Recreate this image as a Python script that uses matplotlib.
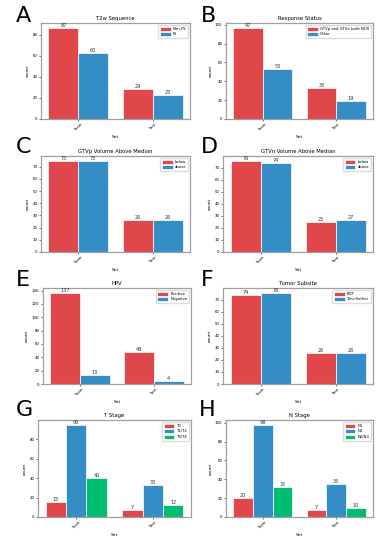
import matplotlib
matplotlib.use("Agg")
import matplotlib.pyplot as plt
import numpy as np

sets = ["Train", "Test"]

titles = ["T2w Sequence", "Response Status", "GTVp Volume Above Median",
          "GTVn Volume Above Median", "HPV", "Tumor Subsite", "T Stage", "N Stage"]
letters = ["A", "B", "C", "D", "E", "F", "G", "H"]

legend_a = ["Non-FS", "FS"]
values_a = [[87, 29], [63, 23]]
legend_b = ["GTVp and GTVn both NCR", "Other"]
values_b = [[97, 33], [53, 19]]
legend_c = ["below", "above"]
values_c = [[75, 26], [75, 26]]
legend_d = ["below", "above"]
values_d = [[76, 25], [74, 27]]
legend_e = ["Positive", "Negative"]
values_e = [[137, 48], [13, 4]]
legend_f = ["BOT", "Tonsil/other"]
values_f = [[74, 26], [76, 26]]
legend_g = ["T0", "T1/T2", "T3/T4"]
values_g = [[15, 7], [95, 33], [40, 12]]
legend_h = ["N0", "N1", "N2/N3"]
values_h = [[20, 7], [98, 35], [32, 10]]

legends = [legend_a, legend_b, legend_c, legend_d, legend_e, legend_f, legend_g, legend_h]
values = [values_a, values_b, values_c, values_d, values_e, values_f, values_g, values_h]
colors = ["#E0474B", "#358DC6", "#00BD70"]

W, H = 392, 543
fig = plt.figure(figsize=(W / 100, H / 100), dpi=100)

# axes boxes in pixels (left, top, right, bottom)
boxes = [(41, 23, 190, 119), (226, 23, 373, 119),
         (41, 156, 190, 252), (223, 156, 373, 252),
         (43, 288, 191, 384), (223, 288, 373, 384),
         (38, 420, 191, 517), (226, 420, 373, 517)]
letter_pos = [(16, 22), (201, 22), (16, 153), (201, 153),
              (16, 286), (201, 286), (16, 416), (199, 416)]

for i in range(8):
    l, t, r, b = boxes[i]
    ax = fig.add_axes([l / W, 1 - b / H, (r - l) / W, (b - t) / H])
    vals = values[i]
    n = len(vals)
    width = 0.8 / n
    x = np.arange(len(sets))
    for j, v in enumerate(vals):
        pos = x - 0.4 + width * (j + 0.5)
        bars = ax.bar(pos, v, width=width, color=colors[j], edgecolor="#ffffff",
                      linewidth=0.5, label=legends[i][j])
        for rect, val in zip(bars, v):
            ax.text(rect.get_x() + rect.get_width() / 2, rect.get_height(), str(val),
                    ha="center", va="bottom", fontsize=3.6, color="#333333")
    ax.set_xlim(-0.5, 1.5)
    ax.set_xticks(x)
    ax.set_xticklabels(sets, rotation=45, fontsize=2.8)
    ax.tick_params(axis="both", labelsize=2.8, length=1.5, width=0.4, pad=1)
    ax.set_xlabel("Set", fontsize=3.2, labelpad=2)
    ax.set_ylabel("count", fontsize=3.2, labelpad=2)
    ax.set_title(titles[i], fontsize=3.8, pad=2)
    for s in ax.spines.values():
        s.set_color("#a0a0a0")
        s.set_linewidth(0.9)
    ax.legend(loc="upper right", fontsize=2.7, handlelength=2.8, handleheight=1.3,
              borderpad=0.5, labelspacing=0.3, handletextpad=0.6,
              framealpha=1, edgecolor="#dddddd", fancybox=True)
    lx, ly = letter_pos[i]
    fig.text(lx / W, 1 - ly / H, letters[i], fontsize=16, ha="left",
             va="baseline")

fig.savefig("out.png", dpi=100)
